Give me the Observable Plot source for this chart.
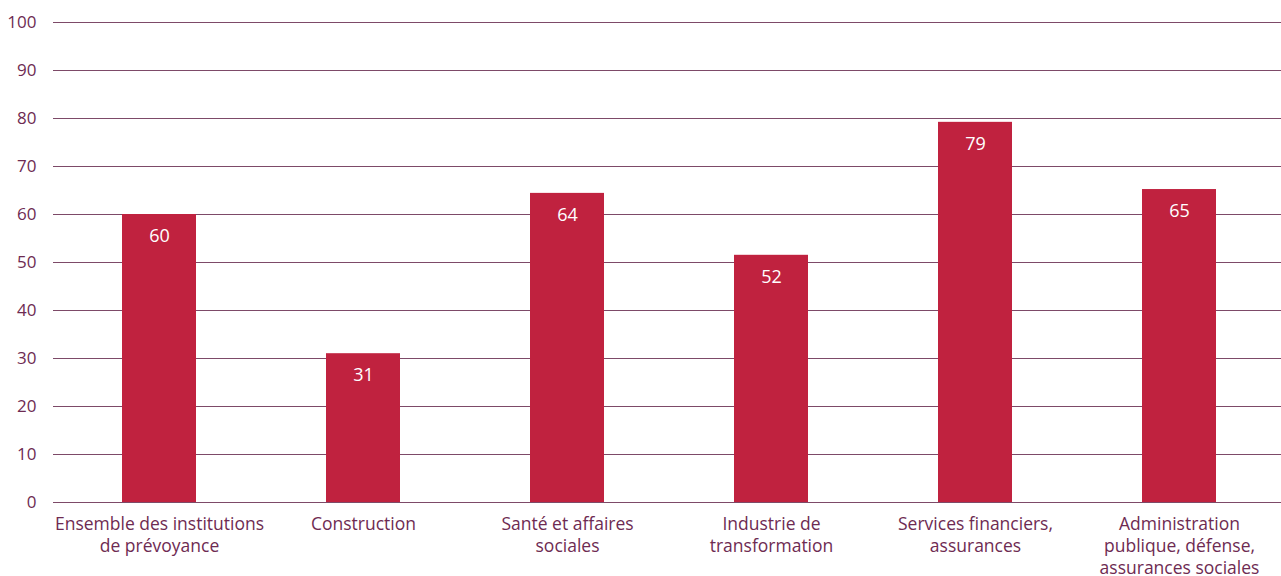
<!DOCTYPE html>
<html>
<head>
<meta charset="utf-8">
<script src="https://cdn.jsdelivr.net/npm/d3@7"></script>
<script src="https://cdn.jsdelivr.net/npm/@observablehq/plot@0.6"></script>
<style>
  html, body { margin: 0; padding: 0; background: #fff; }
  #chart svg { display: block; }
</style>
</head>
<body>
<div id="chart"></div>
<script>
const categories = [
  "Ensemble des institutions\nde prévoyance",
  "Construction",
  "Santé et affaires\nsociales",
  "Industrie de\ntransformation",
  "Services financiers,\nassurances",
  "Administration\npublique, défense,\nassurances sociales"
];
const values = [60, 31, 64.4, 51.5, 79.2, 65.2];
const valueLabels = ["60", "31", "64", "52", "79", "65"];
const yTicks = [0, 10, 20, 30, 40, 50, 60, 70, 80, 90, 100];

const data = categories.map((c, i) => ({cat: c, value: values[i], label: valueLabels[i]}));

const textColor = "#6e2b52";
const gridColor = "#7d4a68";
const barColor = "#c0223f";

const chart = Plot.plot({
  width: 1281,
  height: 576,
  marginLeft: 57,
  marginRight: 0,
  marginTop: 22,
  marginBottom: 74,
  style: {fontFamily: "'Open Sans', sans-serif", fontSize: "17px", color: textColor, background: "#fff"},
  x: {domain: categories, paddingInner: 0.637, paddingOuter: 0.3185, label: null},
  y: {domain: [0, 100], label: null},
  marks: [
    Plot.ruleY(yTicks, {stroke: gridColor, strokeWidth: 1.2, insetLeft: -4}),
    Plot.barY(data, {x: "cat", y: "value", fill: barColor}),
    Plot.text(data, {x: "cat", y: "value", text: "label", fill: "white", dy: 22, fontSize: 18}),
    Plot.axisY(yTicks, {tickSize: 0, tickPadding: 21, fontSize: 17, fill: textColor, label: null}),
    Plot.axisX({tickSize: 0, tickPadding: 12, fontSize: 17.5, fill: textColor, lineHeight: 1.26, label: null})
  ]
});
document.getElementById("chart").appendChild(chart);
</script>
</body>
</html>
